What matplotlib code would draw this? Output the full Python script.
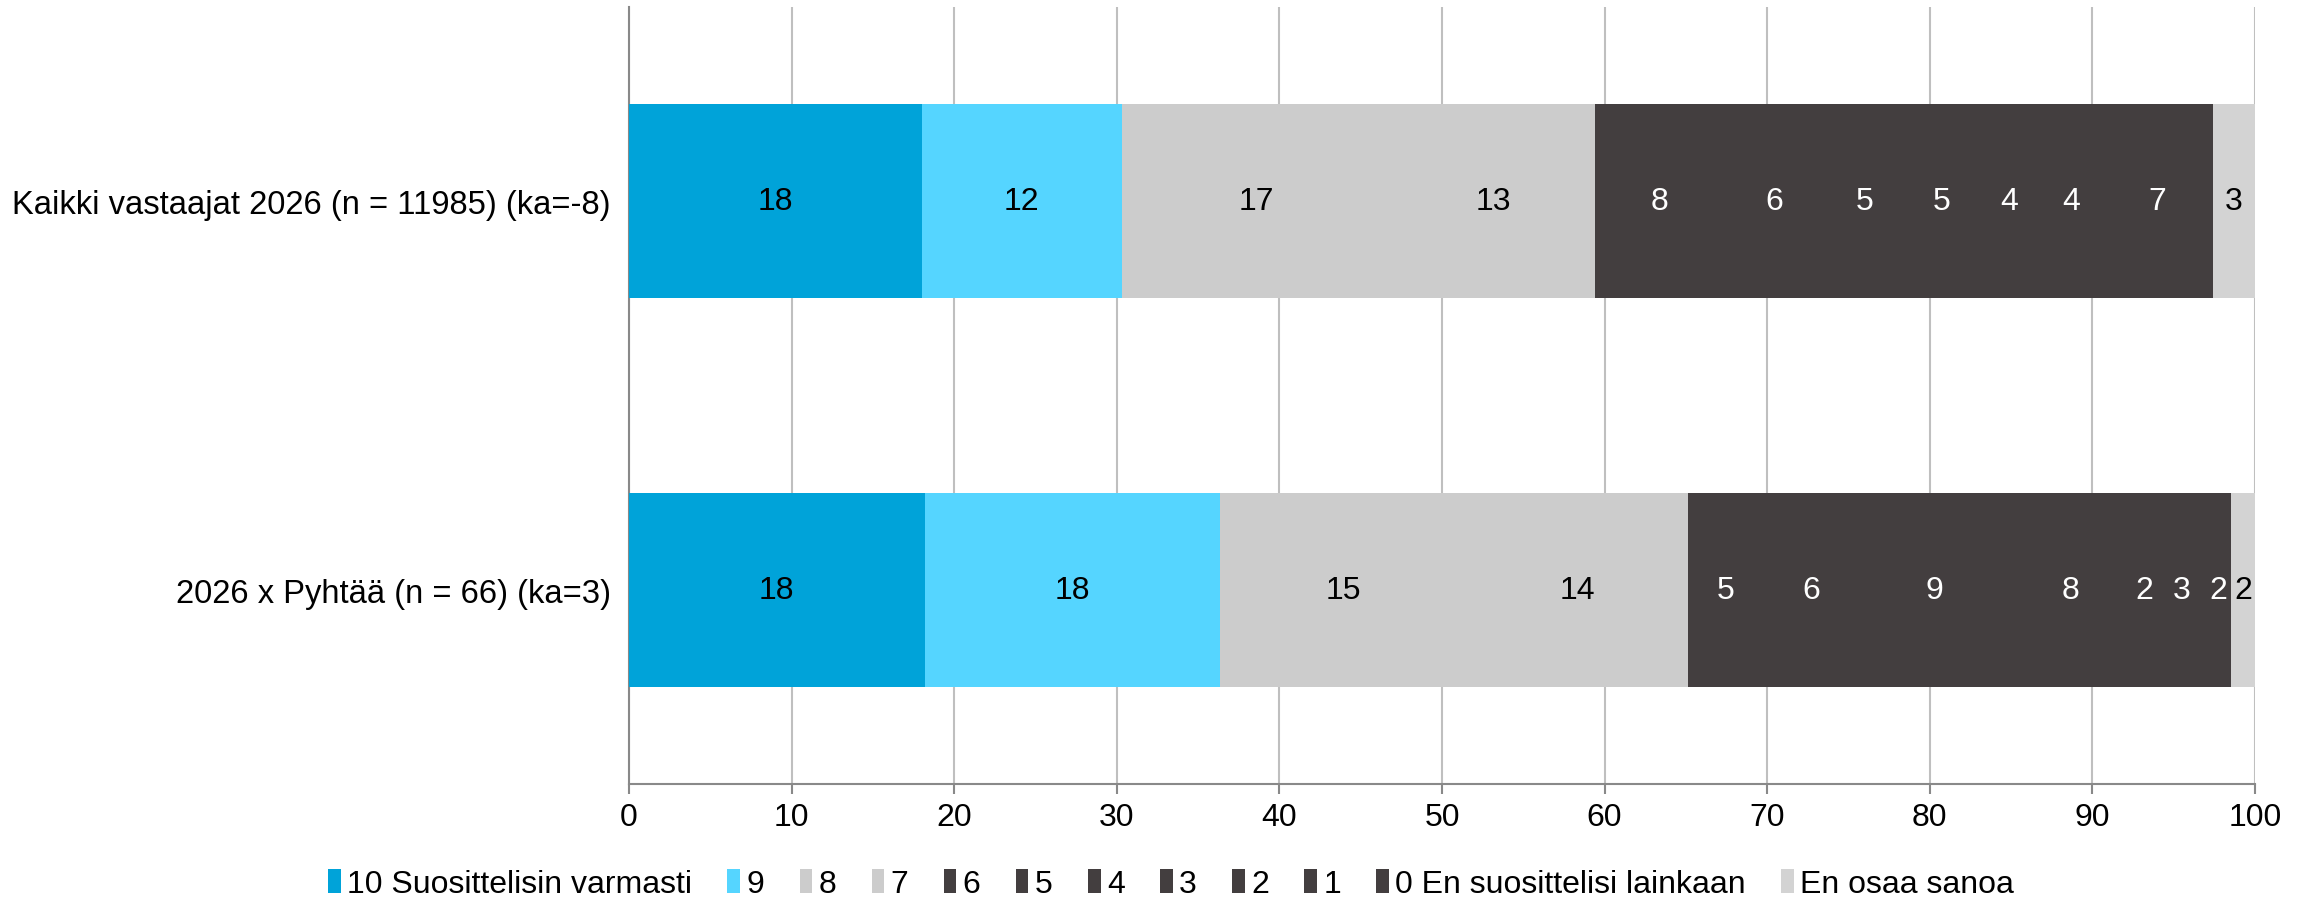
import numpy as np
from matplotlib import pyplot as plt
from matplotlib.patches import Patch

plt.rcParams['font.family'] = ['Liberation Sans', 'DejaVu Sans']

groups = ['Kaikki vastaajat 2026 (n = 11985) (ka=-8)',
          '2026 x Pyhtää (n = 66) (ka=3)']
answers = ['10 Suosittelisin varmasti', '9', '8', '7', '6', '5', '4', '3', '2', '1',
           '0 En suosittelisi lainkaan', 'En osaa sanoa']

# shares in percent, one list per group, order follows answers
kaikki = [18.0, 12.3, 16.6, 12.51, 7.9, 6.2, 4.9, 4.6, 3.8, 3.8, 6.8, 2.59]
pyhtaa = [18.18, 18.18, 15.15, 13.64, 4.55, 6.06, 9.09, 7.58, 1.52, 3.03, 1.52, 1.52]

colors = ['#00A3D9', '#55D5FF', '#CCCCCC', '#CCCCCC', '#433E3F', '#433E3F', '#433E3F',
          '#433E3F', '#433E3F', '#433E3F', '#433E3F', '#D3D3D3']
text_colors = ['black'] * 4 + ['white'] * 7 + ['black']

data = np.array([kaikki, pyhtaa])
ypos = np.array([1, 0])

fig = plt.figure(figsize=(23.1, 9.03), dpi=100)
ax = fig.add_axes([0.2723, 0.1307, 0.7039, 0.8604])

left = np.zeros(len(groups))
for i in range(len(answers)):
    vals = data[:, i]
    ax.barh(ypos, vals, left=left, height=0.5, color=colors[i], label=answers[i], zorder=3)
    for y, l, v in zip(ypos, left, vals):
        ax.text(l + v / 2, y, f'{v:.0f}', ha='center', va='center',
                color=text_colors[i], fontsize=23, zorder=4)
    left += vals

ax.set_xlim(0, 100)
ax.set_ylim(-0.5, 1.5)
ax.set_xticks(range(0, 101, 10))
ax.set_yticks(ypos)
ax.set_yticklabels(groups)
ax.tick_params(axis='x', labelsize=23, length=7, width=1.5, color='#898989', pad=6)
ax.tick_params(axis='y', labelsize=23.6, length=0, pad=13)
ax.xaxis.grid(True, color='#BFBFBF', linewidth=1.5, zorder=0)
ax.set_axisbelow(True)
for s in ['top', 'right']:
    ax.spines[s].set_visible(False)
ax.spines['left'].set_color('#898989')
ax.spines['bottom'].set_color('#898989')
ax.spines['left'].set_linewidth(1.5)
ax.spines['bottom'].set_linewidth(1.5)

handles = [Patch(facecolor=c) for c in colors]
fig.legend(handles, answers, loc='center', bbox_to_anchor=(0.507, 0.02), ncol=12,
           frameon=False, fontsize=23, handlelength=0.4, handleheight=0.8,
           handletextpad=0.2, columnspacing=1.1, borderpad=0)

plt.savefig('out.png', dpi=100)
